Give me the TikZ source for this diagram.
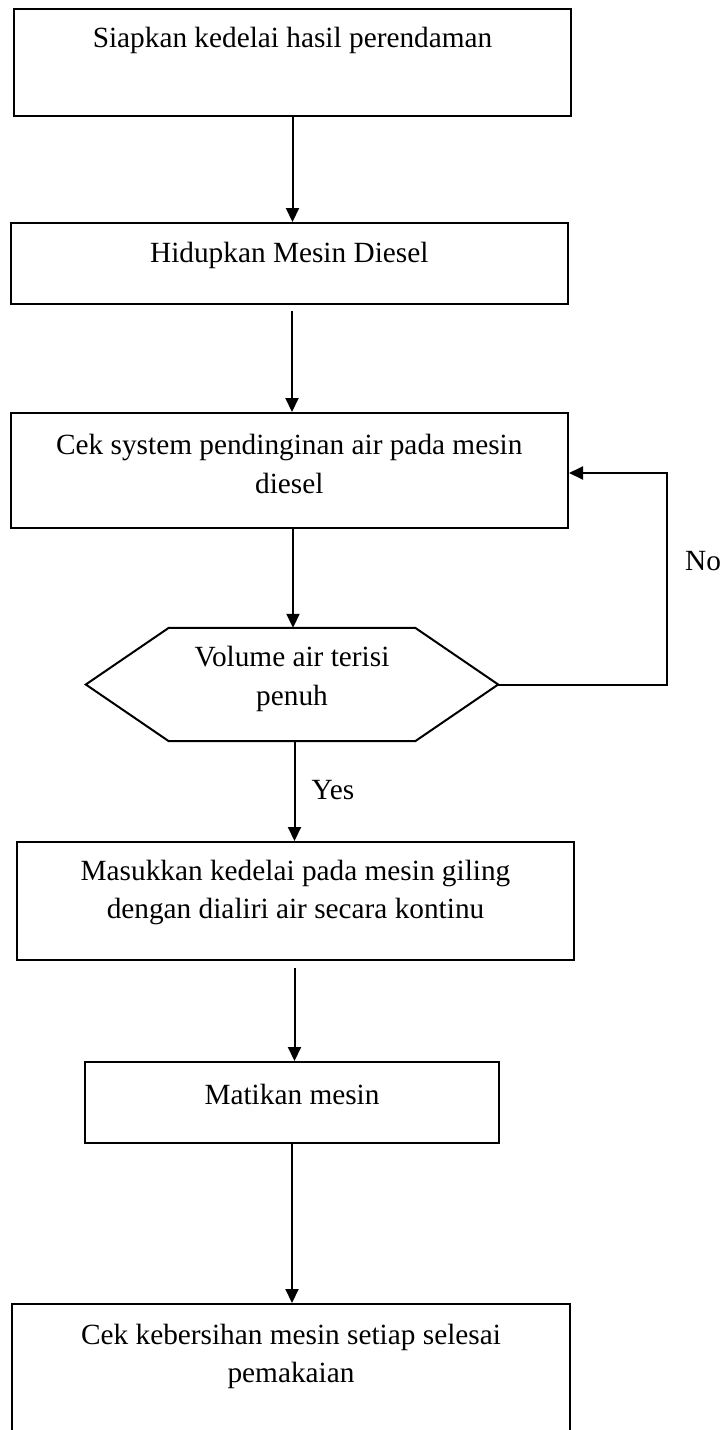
\documentclass[tikz,border=0pt]{standalone}
\usepackage{fontspec}
\setmainfont{Liberation Serif}
\usetikzlibrary{arrows.meta,calc}
\tikzset{
  box/.style={draw, line width=2pt, inner sep=0pt},
  txt/.style={inner sep=0pt, align=center, font=\fontsize{29.3pt}{38.5pt}\selectfont},
  arr/.style={line width=2pt, -{Triangle[length=14pt,width=13pt]}},
  fline/.style={line width=2pt, line join=miter}
}
\begin{document}
\begin{tikzpicture}[x=1pt,y=1pt]
\useasboundingbox (0,0) rectangle (725,-1430);
% boxes
\node[box, minimum width=557pt, minimum height=107pt] (b1) at (292.5,-62.5) {};
\node[box, minimum width=557.4pt, minimum height=81pt] (b2) at (289.3,-263.5) {};
\node[box, minimum width=557.4pt, minimum height=115pt] (b3) at (289.3,-470.5) {};
\node[minimum width=412pt, minimum height=113pt, inner sep=0pt] (hex) at (292,-684.5) {};
\draw[fline] ([xshift=83pt]hex.north west) -- ([xshift=-83pt]hex.north east) -- (hex.east)
  -- ([xshift=-83pt]hex.south east) -- ([xshift=83pt]hex.south west) -- (hex.west) -- cycle;
\node[box, minimum width=557pt, minimum height=118pt] (b4) at (295.5,-901) {};
\node[box, minimum width=414pt, minimum height=81pt] (b5) at (292,-1102.5) {};
\node[box, minimum width=558pt, minimum height=136pt] (b6) at (291,-1372) {};
% texts
\node[txt] (t1) at (292.5,-40) {Siapkan kedelai hasil perendaman};
\node[txt] (t2) at (289.3,-255) {Hidupkan Mesin Diesel};
\node[txt] (t3) at (289.3,-464) {Cek system pendinginan air pada mesin\\diesel};
\node[txt] (th) at (292,-679) {Volume air terisi\\penuh};
\node[txt] (t4) at (295.5,-892.5) {Masukkan kedelai pada mesin giling\\dengan dialiri air secara kontinu};
\node[txt] (t5) at (292,-1094) {Matikan mesin};
\node[txt] (t6) at (291,-1356.5) {Cek kebersihan mesin setiap selesai\\pemakaian};
\node[txt] (yes) at (333,-790) {Yes};
\node[txt] (no) at (703,-561) {No};
% connectors
\draw[arr] (b1.south) -- (b1.south |- b2.north);
\draw[arr, shorten <=6pt] ([xshift=2.7pt]b2.south) -- ([xshift=2.7pt]b2.south |- b3.north);
\draw[arr] ([xshift=3.7pt]b3.south) -- ([xshift=3.7pt]b3.south |- hex.north);
\draw[arr] ([xshift=2.5pt]hex.south) -- ([xshift=2.5pt]hex.south |- b4.north);
\draw[arr, shorten <=7pt] ([xshift=-1pt]b4.south) -- ([xshift=-1pt]b4.south |- b5.north);
\draw[arr] (b5.south) -- (b5.south |- b6.north);
\coordinate (fb1) at (667,-684.5);
\coordinate (fb2) at (667,-473);
\draw[arr, line join=miter] (hex.east) -- (fb1) -- (fb2) -- (b3.east |- fb2);
\end{tikzpicture}
\end{document}
